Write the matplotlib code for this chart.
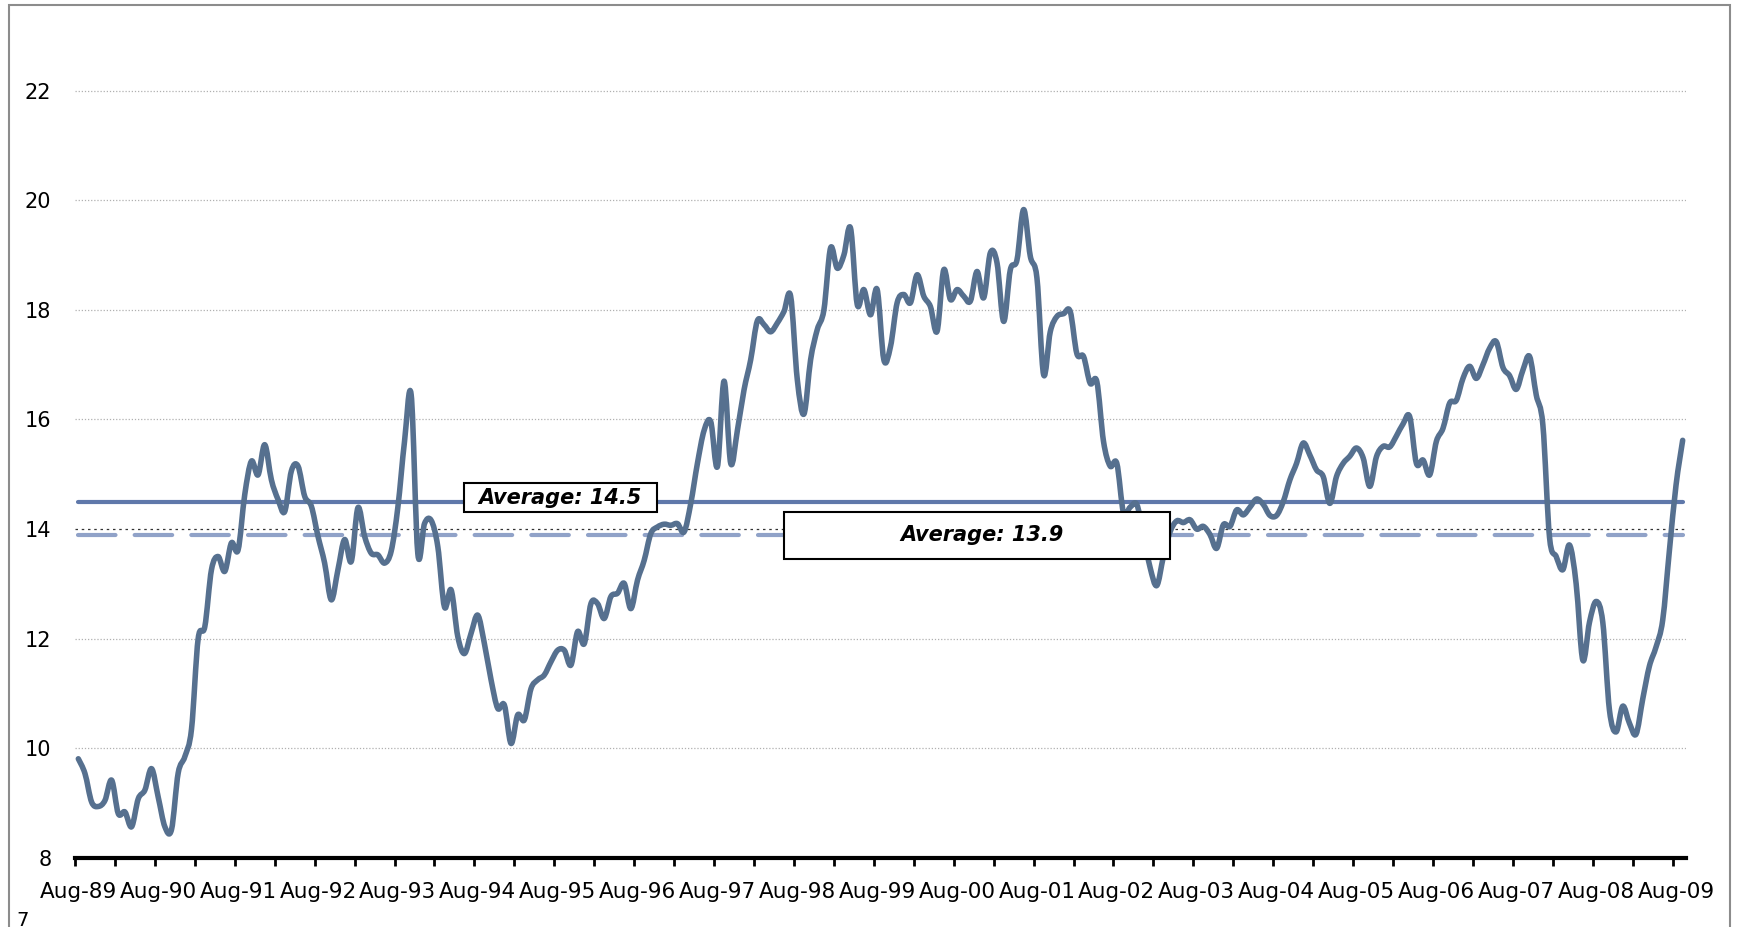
import matplotlib
matplotlib.use("Agg")
import matplotlib.pyplot as plt
from matplotlib.patches import Rectangle, PathPatch
from matplotlib.path import Path
import numpy as np

# Monthly series, Aug-89 through Sep-09
values = [
    9.81, 9.54, 9.02, 8.94, 9.05, 9.42, 8.81, 8.84, 8.57, 9.08, 9.24, 9.63,
    9.11, 8.57, 8.52, 9.55, 9.85, 10.35, 12.00, 12.22, 13.26, 13.50, 13.23, 13.75,
    13.62, 14.63, 15.24, 14.99, 15.54, 14.90, 14.54, 14.32, 15.06, 15.15, 14.60, 14.42,
    13.87, 13.38, 12.71, 13.26, 13.81, 13.41, 14.39, 13.87, 13.56, 13.53, 13.38, 13.60,
    14.40, 15.60, 16.45, 13.55, 14.10, 14.16, 13.68, 12.58, 12.89, 12.04, 11.73, 12.10,
    12.43, 11.91, 11.25, 10.73, 10.79, 10.09, 10.61, 10.52, 11.09, 11.25, 11.34, 11.58,
    11.79, 11.79, 11.52, 12.13, 11.91, 12.64, 12.64, 12.37, 12.77, 12.83, 13.01, 12.55,
    13.07, 13.43, 13.92, 14.04, 14.09, 14.07, 14.10, 13.95, 14.47, 15.20, 15.80, 15.96,
    15.14, 16.70, 15.20, 15.80, 16.54, 17.09, 17.80, 17.73, 17.60, 17.76, 17.97, 18.25,
    16.73, 16.10, 17.09, 17.64, 18.00, 19.13, 18.76, 19.00, 19.49, 18.10, 18.37, 17.91,
    18.37, 17.09, 17.33, 18.13, 18.28, 18.13, 18.64, 18.25, 18.06, 17.61, 18.73, 18.19,
    18.37, 18.25, 18.16, 18.70, 18.22, 19.04, 18.86, 17.79, 18.73, 18.91, 19.83, 18.98,
    18.58, 16.82, 17.60, 17.88, 17.93, 17.97, 17.20, 17.15, 16.66, 16.69, 15.60, 15.15,
    15.20, 14.30, 14.40, 14.45, 13.90, 13.30, 12.97, 13.50, 13.95, 14.15, 14.12, 14.17,
    14.00, 14.05, 13.90, 13.65, 14.08, 14.05, 14.35, 14.26, 14.40, 14.55, 14.45, 14.25,
    14.25, 14.50, 14.90, 15.20, 15.57, 15.35, 15.08, 14.96, 14.47, 14.96, 15.20, 15.33,
    15.48, 15.30, 14.78, 15.32, 15.51, 15.50, 15.70, 15.92, 16.05, 15.20, 15.26, 14.99,
    15.60, 15.84, 16.30, 16.35, 16.75, 16.97, 16.75, 17.00, 17.30, 17.42, 16.95, 16.80,
    16.55, 16.90, 17.15, 16.45, 15.90, 13.85, 13.50, 13.26, 13.71, 13.00, 11.61, 12.30,
    12.68, 12.30, 10.70, 10.30, 10.77, 10.46, 10.26, 10.90, 11.50, 11.85, 12.34, 13.60,
    14.80, 15.62,
]

year_labels = ["Aug-89", "Aug-90", "Aug-91", "Aug-92", "Aug-93", "Aug-94", "Aug-95",
               "Aug-96", "Aug-97", "Aug-98", "Aug-99", "Aug-00", "Aug-01", "Aug-02",
               "Aug-03", "Aug-04", "Aug-05", "Aug-06", "Aug-07", "Aug-08", "Aug-09"]
y_ticks = [8, 10, 12, 14, 16, 18, 20, 22]

average_long = 14.5
average_recent = 13.9

W, H = 1741, 927
fig = plt.figure(figsize=(W / 100, H / 100), dpi=100)
fig.patch.set_facecolor("white")

n = len(values)
x = np.arange(n) + 0.5

ax = fig.add_axes([75 / W, 1 - 858 / H, 1611 / W, 848.5 / H])
ax.set_xlim(0, n)
ax.set_ylim(8, 23.48)

# gridlines
for yv in y_ticks[1:]:
    if yv == 14:
        ax.plot([0, n], [yv, yv], color="#333333", lw=0.9, ls=(0, (2, 3)), zorder=1)
    else:
        ax.plot([0, n], [yv, yv], color="#B0B0B0", lw=0.9, ls=(0, (1, 1.5)), zorder=1)

# average lines
ax.plot([x[0], x[-1]], [average_long, average_long], color="#5F78AA", lw=3.0,
        solid_capstyle="round", zorder=2)
ax.plot([x[0], x[-1]], [average_recent, average_recent], color="#90A2C8", lw=3.0,
        ls=(0, (9, 4.6)), dash_capstyle="round", zorder=2)

# main series as a smoothed (cubic Bezier) line through every monthly value
pts = np.column_stack([x, values])
verts = [pts[0]]
codes = [Path.MOVETO]
for k in range(n - 1):
    p0 = pts[max(k - 1, 0)]
    p1 = pts[k]
    p2 = pts[k + 1]
    p3 = pts[min(k + 2, n - 1)]
    verts += [p1 + (p2 - p0) / 6.0, p2 - (p3 - p1) / 6.0, p2]
    codes += [Path.CURVE4] * 3
ax.add_patch(PathPatch(Path(verts, codes), facecolor="none", edgecolor="#56708F",
                       lw=4.0, joinstyle="round", capstyle="round", zorder=3))

# labelled boxes
box_font = dict(family="DejaVu Sans", weight="bold", style="italic", size=15)
ax.add_patch(Rectangle((58.4, 14.31), 29.0, 0.53, facecolor="white",
                       edgecolor="black", lw=1.5, zorder=5))
ax.text(72.9, 14.575, f"Average: {average_long}", ha="center", va="center",
        zorder=6, **box_font)
ax.add_patch(Rectangle((106.5, 13.46), 58.0, 0.86, facecolor="white",
                       edgecolor="black", lw=1.5, zorder=5))
ax.text(136.3, 13.89, f"Average: {average_recent}", ha="center", va="center",
        zorder=6, **box_font)

# axes styling
for side in ["left", "right", "top"]:
    ax.spines[side].set_visible(False)
ax.spines["bottom"].set_linewidth(3)
ax.spines["bottom"].set_color("black")

ax.set_xticks(np.arange(0, n - 1, 6))
ax.set_xticklabels([])
ax.tick_params(axis="x", which="major", length=6, width=2, color="black")
ax.set_xticks(np.arange(len(year_labels)) * 12 + 0.5, minor=True)
ax.set_xticklabels(year_labels, minor=True, fontsize=15.5, family="DejaVu Sans")
ax.tick_params(axis="x", which="minor", length=0, pad=17)

ax.set_yticks(y_ticks)
ax.set_yticklabels([str(v) for v in y_ticks], fontsize=15, family="DejaVu Sans")
ax.tick_params(axis="y", length=0, pad=17)

# outer frame and page number
fig.add_artist(Rectangle((9 / W, -0.05), 1721 / W, 1.05 - 5 / H,
                         transform=fig.transFigure, fill=False,
                         edgecolor="#8C8C8C", lw=1.5))
fig.text(16 / W, 1 / H, "7", fontsize=14, family="DejaVu Sans", ha="left", va="baseline")

fig.savefig("out.png", dpi=100)
